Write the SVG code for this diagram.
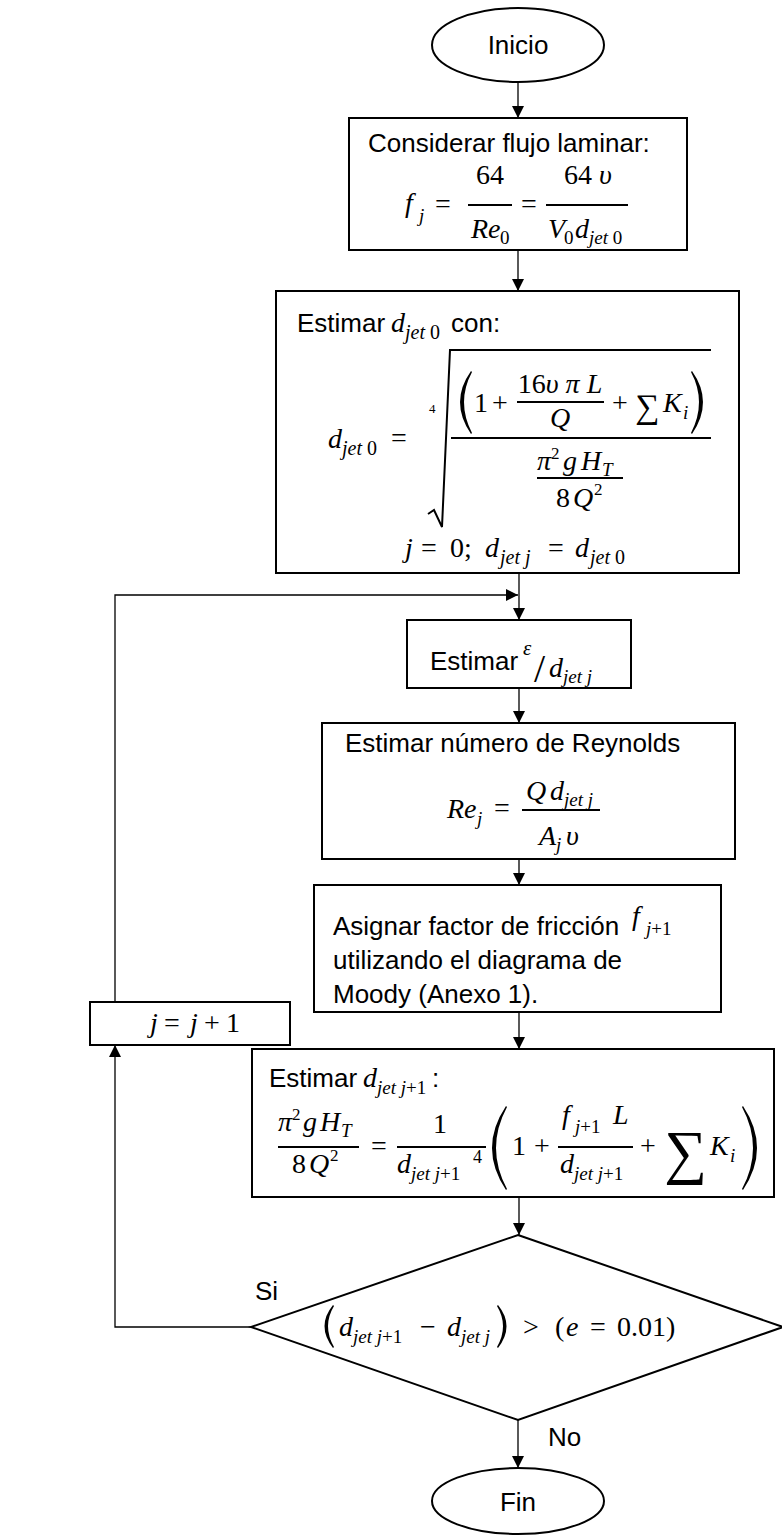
<svg xmlns="http://www.w3.org/2000/svg" width="782" height="1536" viewBox="0 0 782 1536">
<style>
.box{fill:#fff;stroke:#000;stroke-width:2}
.ln{fill:none;stroke:#000;stroke-width:1.3}
.bar{stroke:#000;stroke-width:1.9}
.t{font-family:"Liberation Sans",Arial,sans-serif;font-size:26px;fill:#000}
.m{font-family:"Liberation Serif","Times New Roman",serif;font-size:28px;font-style:italic;fill:#000}
.u{font-family:"Liberation Serif","Times New Roman",serif;font-size:28px;font-style:normal;fill:#000}
.s{font-size:19px}
.c{text-anchor:middle}
.par{fill:#000;stroke:none}
</style>
<defs>
<marker id="ah" viewBox="0 0 12 12" refX="12" refY="6" markerWidth="12" markerHeight="12" markerUnits="userSpaceOnUse" orient="auto">
<path d="M0,0 L12,6 L0,12 z" fill="#000"/>
</marker>
</defs>

<g id="connectors">
<line class="ln" x1="518" y1="82" x2="518" y2="118" marker-end="url(#ah)"/>
<line class="ln" x1="518" y1="250" x2="518" y2="291" marker-end="url(#ah)"/>
<line class="ln" x1="519" y1="573" x2="519" y2="620" marker-end="url(#ah)"/>
<line class="ln" x1="519" y1="688" x2="519" y2="723" marker-end="url(#ah)"/>
<line class="ln" x1="519" y1="859" x2="519" y2="885" marker-end="url(#ah)"/>
<line class="ln" x1="519" y1="1012" x2="519" y2="1049" marker-end="url(#ah)"/>
<line class="ln" x1="519" y1="1197" x2="519" y2="1235" marker-end="url(#ah)"/>
<line class="ln" x1="518" y1="1420" x2="518" y2="1468" marker-end="url(#ah)"/>
<polyline class="ln" points="251,1327 115,1327 115,1045" marker-end="url(#ah)"/>
<polyline class="ln" points="115,1002 115,595 518,595" marker-end="url(#ah)"/>
<text class="t" x="255" y="1300">Si</text>
<text class="t" x="548" y="1446">No</text>
</g>

<g id="inicio">
<ellipse class="box" cx="518" cy="45" rx="86" ry="37"/>
<text class="t c" x="518" y="54">Inicio</text>
</g>

<g id="laminar">
<rect class="box" x="349" y="118" width="338" height="132"/>
<text class="t" x="368" y="152">Considerar flujo laminar:</text>
<text class="m" x="405" y="212">f</text>
<text class="m s" x="419" y="222">j</text>
<text class="u c" x="443" y="213">=</text>
<text class="u c" x="490" y="184">64</text>
<line class="bar" x1="468" y1="205" x2="512" y2="205"/>
<text class="m" x="471" y="238">Re</text>
<text class="u s" x="500" y="244">0</text>
<text class="u c" x="529" y="213">=</text>
<text class="u c" x="588" y="184">64 <tspan font-style="italic">υ</tspan></text>
<line class="bar" x1="546" y1="205" x2="628" y2="205"/>
<text class="m" x="548" y="238">V</text>
<text class="u s" x="564" y="244">0</text>
<text class="m" x="575" y="238">d</text>
<text class="m s" x="589" y="244">jet <tspan font-style="normal">0</tspan></text>
</g>

<g id="estimar-d0">
<rect class="box" x="276" y="291" width="463" height="282"/>
<text class="t" x="297" y="332">Estimar</text>
<text class="m" x="391" y="332">d</text>
<text class="m s" x="405" y="339" style="font-size:20px">jet <tspan font-style="normal">0</tspan></text>
<text class="t" x="451" y="332">con:</text>
<text class="m" x="328" y="448">d</text>
<text class="m s" x="342" y="455" style="font-size:20px">jet <tspan font-style="normal">0</tspan></text>
<text class="u c" x="399" y="447">=</text>
<path d="M428,514 L434,510 L442,527 L450,350 L711,350" fill="none" stroke="#000" stroke-width="2"/>
<text class="u" x="429" y="413" style="font-size:13px">4</text>
<line x1="451" y1="438" x2="711" y2="438" stroke="#000" stroke-width="2.2"/>
<path class="par" d="M471,371 Q449,402 471,434 L472,433 Q456,402 472,372 Z"/>
<text class="u" x="474" y="412">1</text>
<text class="u c" x="500" y="412">+</text>
<text class="u c" x="560" y="393">16<tspan font-style="italic">υ π L</tspan></text>
<line class="bar" x1="517" y1="402" x2="604" y2="402"/>
<text class="m c" x="560" y="427">Q</text>
<text class="u c" x="620" y="412">+</text>
<text class="u" x="635" y="418" style="font-size:34px">∑</text>
<text class="m" x="663" y="412">K</text>
<text class="m s" x="683" y="419">i</text>
<path class="par" d="M692,371 Q714,402 692,434 L691,433 Q707,402 691,372 Z"/>
<text class="m" x="537" y="470">π</text>
<text class="u" x="551" y="459" style="font-size:17px">2</text>
<text class="m" x="563" y="470">g</text>
<text class="m" x="581" y="470">H</text>
<text class="m s" x="602" y="476">T</text>
<line class="bar" x1="537" y1="478" x2="623" y2="478"/>
<text class="u" x="556" y="507">8</text>
<text class="m" x="573" y="507">Q</text>
<text class="u" x="594" y="495" style="font-size:17px">2</text>
<text class="m" x="405" y="557">j</text>
<text class="u c" x="429" y="557">=</text>
<text class="u" x="450" y="557">0;</text>
<text class="m" x="485" y="557">d</text>
<text class="m s" x="500" y="564" style="font-size:20px">jet j</text>
<text class="u c" x="556" y="557">=</text>
<text class="m" x="575" y="557">d</text>
<text class="m s" x="590" y="564" style="font-size:20px">jet <tspan font-style="normal">0</tspan></text>
</g>

<g id="estimar-eps">
<rect class="box" x="407" y="620" width="224" height="68"/>
<text class="t" x="430" y="670">Estimar</text>
<text class="m" x="523" y="655" style="font-size:21px">ε</text>
<text class="u" x="534" y="682" style="font-size:40px">/</text>
<text class="m" x="549" y="677">d</text>
<text class="m s" x="563" y="683">jet j</text>
</g>

<g id="reynolds">
<rect class="box" x="322" y="723" width="413" height="136"/>
<text class="t" x="345" y="752">Estimar número de Reynolds</text>
<text class="m" x="447" y="818">Re</text>
<text class="m s" x="477" y="825">j</text>
<text class="u c" x="502" y="817">=</text>
<text class="m" x="526" y="800">Q</text>
<text class="m" x="550" y="800">d</text>
<text class="m s" x="564" y="806">jet j</text>
<line class="bar" x1="522" y1="810" x2="600" y2="810"/>
<text class="m" x="539" y="845">A</text>
<text class="m s" x="556" y="851">j</text>
<text class="m" x="566" y="845">υ</text>
</g>

<g id="asignar">
<rect class="box" x="314" y="885" width="407" height="127"/>
<text class="t" x="333" y="935">Asignar factor de fricción</text>
<text class="m" x="632" y="925">f</text>
<text class="m s" x="646" y="935">j<tspan font-style="normal">+1</tspan></text>
<text class="t" x="333" y="969">utilizando el diagrama de</text>
<text class="t" x="333" y="1003">Moody (Anexo 1).</text>
</g>

<g id="incremento">
<rect class="box" x="90" y="1002" width="200" height="43"/>
<text class="m" x="150" y="1032">j</text>
<text class="u c" x="172" y="1032">=</text>
<text class="m" x="190" y="1032">j</text>
<text class="u c" x="212" y="1032">+</text>
<text class="u" x="226" y="1032">1</text>
</g>

<g id="estimar-dj1">
<rect class="box" x="252" y="1049" width="522" height="148"/>
<text class="t" x="269" y="1087">Estimar</text>
<text class="m" x="363" y="1087">d</text>
<text class="m s" x="377" y="1094">jet j<tspan font-style="normal">+1</tspan></text>
<text class="t" x="432" y="1087">:</text>
<text class="m" x="278" y="1131">π</text>
<text class="u" x="292" y="1120" style="font-size:17px">2</text>
<text class="m" x="303" y="1131">g</text>
<text class="m" x="320" y="1131">H</text>
<text class="m s" x="341" y="1137">T</text>
<line class="bar" x1="278" y1="1147" x2="359" y2="1147"/>
<text class="u" x="292" y="1173">8</text>
<text class="m" x="309" y="1173">Q</text>
<text class="u" x="330" y="1161" style="font-size:17px">2</text>
<text class="u c" x="379" y="1155">=</text>
<text class="u c" x="440" y="1133">1</text>
<line class="bar" x1="397" y1="1147" x2="486" y2="1147"/>
<text class="m" x="397" y="1173">d</text>
<text class="m s" x="411" y="1180">jet j<tspan font-style="normal">+1</tspan></text>
<text class="u" x="473" y="1163" style="font-size:18px">4</text>
<path class="par" d="M506,1106 Q478,1148 506,1190 L507,1189 Q485,1148 507,1107 Z"/>
<text class="u" x="512" y="1155">1</text>
<text class="u c" x="542" y="1155">+</text>
<text class="m" x="562" y="1124">f</text>
<text class="m s" x="575" y="1133">j<tspan font-style="normal">+1</tspan></text>
<text class="m" x="613" y="1124">L</text>
<line class="bar" x1="558" y1="1147" x2="633" y2="1147"/>
<text class="m" x="560" y="1173">d</text>
<text class="m s" x="574" y="1180">jet j<tspan font-style="normal">+1</tspan></text>
<text class="u c" x="648" y="1155">+</text>
<text class="u" x="664" y="1172" style="font-size:60px">∑</text>
<text class="m" x="710" y="1155">K</text>
<text class="m s" x="730" y="1162">i</text>
<path class="par" d="M743,1106 Q771,1148 743,1190 L742,1189 Q764,1148 742,1107 Z"/>
</g>

<g id="decision">
<polygon class="box" points="518,1235 783,1327 518,1420 251,1327"/>
<path class="par" d="M333,1305 Q316,1326 333,1348 L334,1347 Q322,1326 334,1306 Z"/>
<text class="m" x="339" y="1336">d</text>
<text class="m s" x="353" y="1343">jet j<tspan font-style="normal">+1</tspan></text>
<text class="u c" x="428" y="1336">−</text>
<text class="m" x="447" y="1336">d</text>
<text class="m s" x="461" y="1343">jet j</text>
<path class="par" d="M498,1305 Q515,1326 498,1348 L497,1347 Q509,1326 497,1306 Z"/>
<text class="u c" x="531" y="1336">&gt;</text>
<text class="u" x="555" y="1336">(</text>
<text class="m" x="566" y="1336">e</text>
<text class="u c" x="598" y="1336">=</text>
<text class="u" x="617" y="1336">0.01)</text>
</g>

<g id="fin">
<ellipse class="box" cx="518" cy="1501" rx="86" ry="33"/>
<text class="t c" x="518" y="1511">Fin</text>
</g>
</svg>
